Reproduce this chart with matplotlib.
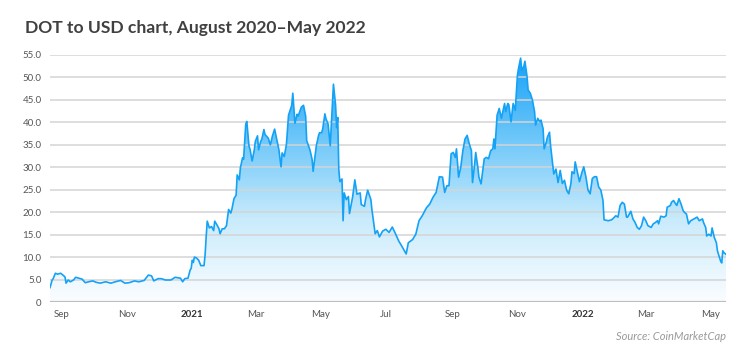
import numpy as np
import pandas as pd
import matplotlib
matplotlib.use("Agg")
import matplotlib.pyplot as plt
import matplotlib.dates as mdates
from matplotlib.colors import LinearSegmentedColormap

# DOT closing price (USD)
dates = [
    "2020-08-21", "2020-08-23", "2020-08-24", "2020-08-26", "2020-08-28", "2020-08-31",
    "2020-09-02", "2020-09-04", "2020-09-05", "2020-09-07", "2020-09-09", "2020-09-12",
    "2020-09-14", "2020-09-17", "2020-09-20", "2020-09-23", "2020-09-26", "2020-09-30",
    "2020-10-03", "2020-10-07", "2020-10-12", "2020-10-17", "2020-10-21", "2020-10-26",
    "2020-10-30", "2020-11-03", "2020-11-08", "2020-11-12", "2020-11-17", "2020-11-21",
    "2020-11-24", "2020-11-26", "2020-11-30", "2020-12-03", "2020-12-07", "2020-12-12",
    "2020-12-16", "2020-12-21", "2020-12-23", "2020-12-25", "2020-12-28", "2020-12-30",
    "2020-12-31", "2021-01-01", "2021-01-02", "2021-01-03", "2021-01-05", "2021-01-07",
    "2021-01-09", "2021-01-12", "2021-01-13", "2021-01-14", "2021-01-15", "2021-01-17",
    "2021-01-19", "2021-01-21", "2021-01-22", "2021-01-24", "2021-01-26", "2021-01-27",
    "2021-01-29", "2021-01-31", "2021-02-02", "2021-02-04", "2021-02-06", "2021-02-07",
    "2021-02-09", "2021-02-11", "2021-02-12", "2021-02-14", "2021-02-15", "2021-02-17",
    "2021-02-18", "2021-02-20", "2021-02-21", "2021-02-23", "2021-02-24", "2021-02-26",
    "2021-02-28", "2021-03-01", "2021-03-03", "2021-03-04", "2021-03-06", "2021-03-07",
    "2021-03-09", "2021-03-10", "2021-03-13", "2021-03-15", "2021-03-17", "2021-03-19",
    "2021-03-21", "2021-03-23", "2021-03-25", "2021-03-26", "2021-03-28", "2021-03-30",
    "2021-04-01", "2021-04-04", "2021-04-05", "2021-04-07", "2021-04-09", "2021-04-10",
    "2021-04-13", "2021-04-15", "2021-04-17", "2021-04-18", "2021-04-21", "2021-04-23",
    "2021-04-24", "2021-04-27", "2021-04-29", "2021-04-30", "2021-05-02", "2021-05-03",
    "2021-05-05", "2021-05-06", "2021-05-08", "2021-05-10", "2021-05-12", "2021-05-13",
    "2021-05-15", "2021-05-16", "2021-05-17", "2021-05-18", "2021-05-19", "2021-05-21",
    "2021-05-22", "2021-05-23", "2021-05-25", "2021-05-27", "2021-05-28", "2021-05-31",
    "2021-06-02", "2021-06-04", "2021-06-07", "2021-06-08", "2021-06-11", "2021-06-12",
    "2021-06-14", "2021-06-17", "2021-06-18", "2021-06-21", "2021-06-23", "2021-06-25",
    "2021-06-28", "2021-07-01", "2021-07-04", "2021-07-07", "2021-07-10", "2021-07-13",
    "2021-07-16", "2021-07-20", "2021-07-22", "2021-07-26", "2021-07-29", "2021-08-01",
    "2021-08-04", "2021-08-08", "2021-08-11", "2021-08-14", "2021-08-17", "2021-08-20",
    "2021-08-23", "2021-08-25", "2021-08-27", "2021-08-29", "2021-08-31", "2021-09-02",
    "2021-09-04", "2021-09-05", "2021-09-07", "2021-09-09", "2021-09-11", "2021-09-13",
    "2021-09-15", "2021-09-17", "2021-09-19", "2021-09-20", "2021-09-22", "2021-09-23",
    "2021-09-25", "2021-09-26", "2021-09-28", "2021-10-01", "2021-10-03", "2021-10-05",
    "2021-10-07", "2021-10-09", "2021-10-10", "2021-10-11", "2021-10-13", "2021-10-15",
    "2021-10-17", "2021-10-20", "2021-10-21", "2021-10-23", "2021-10-24", "2021-10-26",
    "2021-10-28", "2021-10-30", "2021-11-01", "2021-11-02", "2021-11-04", "2021-11-05",
    "2021-11-07", "2021-11-08", "2021-11-10", "2021-11-11", "2021-11-13", "2021-11-15",
    "2021-11-17", "2021-11-18", "2021-11-20", "2021-11-22", "2021-11-23", "2021-11-25",
    "2021-11-26", "2021-11-28", "2021-11-29", "2021-12-01", "2021-12-02", "2021-12-05",
    "2021-12-07", "2021-12-09", "2021-12-11", "2021-12-13", "2021-12-15", "2021-12-17",
    "2021-12-19", "2021-12-21", "2021-12-22", "2021-12-24", "2021-12-25", "2021-12-28",
    "2021-12-29", "2021-12-31", "2022-01-02", "2022-01-04", "2022-01-06", "2022-01-08",
    "2022-01-10", "2022-01-12", "2022-01-14", "2022-01-16", "2022-01-18", "2022-01-20",
    "2022-01-21", "2022-01-25", "2022-01-28", "2022-01-29", "2022-02-01", "2022-02-03",
    "2022-02-05", "2022-02-07", "2022-02-09", "2022-02-11", "2022-02-12", "2022-02-15",
    "2022-02-17", "2022-02-19", "2022-02-21", "2022-02-23", "2022-02-25", "2022-02-27",
    "2022-03-01", "2022-03-03", "2022-03-06", "2022-03-08", "2022-03-10", "2022-03-12",
    "2022-03-13", "2022-03-15", "2022-03-18", "2022-03-20", "2022-03-21", "2022-03-24",
    "2022-03-25", "2022-03-27", "2022-03-28", "2022-03-30", "2022-04-01", "2022-04-03",
    "2022-04-05", "2022-04-06", "2022-04-08", "2022-04-10", "2022-04-12", "2022-04-15",
    "2022-04-18", "2022-04-20", "2022-04-23", "2022-04-24", "2022-04-26", "2022-04-27",
    "2022-04-29", "2022-05-01", "2022-05-02", "2022-05-04", "2022-05-06", "2022-05-07",
    "2022-05-08", "2022-05-10", "2022-05-11", "2022-05-12", "2022-05-13", "2022-05-15",
]
prices = [
    3.2, 4.9, 5.2, 6.4, 6.2, 6.4,
    6.0, 5.6, 4.2, 4.9, 4.5, 4.9,
    5.5, 5.3, 5.1, 4.3, 4.5, 4.7,
    4.4, 4.2, 4.5, 4.2, 4.5, 4.8,
    4.2, 4.3, 4.7, 4.5, 4.8, 6.0,
    5.8, 4.7, 5.2, 5.2, 4.9, 4.9,
    5.5, 5.3, 4.5, 5.2, 5.3, 7.1,
    7.5, 9.3, 8.8, 10.0, 9.8, 9.3,
    8.1, 8.1, 10.5, 14.5, 18.0, 16.5,
    16.8, 15.9, 18.0, 17.2, 16.3, 15.2,
    16.3, 16.3, 17.0, 20.6, 19.8, 20.6,
    23.0, 23.8, 28.3, 27.2, 29.9, 32.1,
    31.8, 39.6, 40.2, 34.8, 34.0, 31.4,
    33.9, 35.8, 37.0, 33.9, 35.8, 36.2,
    38.4, 37.3, 36.5, 35.0, 37.0, 38.5,
    36.2, 33.9, 30.1, 33.2, 32.4, 35.0,
    41.6, 43.8, 46.5, 39.8, 41.8, 41.4,
    43.4, 43.8, 41.4, 35.9, 33.9, 31.8,
    29.1, 34.8, 37.0, 37.7, 37.7, 38.6,
    41.9, 40.8, 39.6, 34.8, 43.8, 48.5,
    43.8, 38.8, 41.1, 29.5, 26.8, 27.4,
    18.1, 24.3, 22.8, 23.5, 19.7, 23.5,
    27.2, 24.0, 24.3, 21.7, 21.3, 22.8,
    24.9, 22.8, 20.5, 15.2, 15.9, 14.5,
    15.8, 16.2, 15.5, 16.7, 15.2, 13.6,
    12.4, 10.7, 13.2, 13.9, 15.1, 18.1,
    19.2, 21.0, 21.8, 23.3, 24.4, 27.9,
    27.8, 24.4, 25.9, 25.9, 33.0, 33.3,
    32.2, 34.1, 27.8, 30.0, 33.7, 36.3,
    37.1, 35.2, 33.7, 26.6, 30.7, 33.3,
    30.0, 27.8, 26.3, 31.9, 32.2, 31.9,
    33.7, 34.1, 36.3, 34.1, 41.6, 43.1,
    40.9, 44.2, 42.4, 44.2, 43.9, 40.1,
    44.2, 42.7, 50.5, 52.0, 54.3, 51.6,
    52.5, 53.6, 50.2, 47.2, 46.5, 45.0,
    42.4, 39.4, 40.9, 40.1, 40.5, 38.6,
    34.1, 35.6, 36.7, 37.8, 34.8, 28.5,
    29.6, 26.6, 29.3, 26.4, 27.1, 24.9,
    24.1, 26.4, 29.0, 28.6, 31.2, 27.9,
    26.8, 28.6, 30.1, 27.9, 24.9, 24.1,
    27.5, 27.9, 27.9, 25.6, 24.9, 22.6,
    18.3, 18.1, 18.3, 18.5, 19.2, 18.9,
    21.5, 22.2, 21.8, 18.9, 18.9, 20.2,
    18.5, 17.7, 16.6, 16.2, 17.0, 18.9,
    18.1, 17.0, 16.6, 17.4, 17.7, 18.1,
    17.4, 19.1, 18.9, 19.2, 21.1, 21.5,
    22.2, 22.6, 22.2, 21.5, 23.0, 21.8,
    20.3, 20.0, 19.6, 17.4, 18.1, 18.5,
    18.9, 18.1, 18.5, 17.7, 16.6, 14.7,
    15.1, 14.7, 16.5, 14.4, 13.2, 11.4,
    10.6, 9.1, 8.7, 11.4, 11.0, 10.6,
]

y_ticks = [0, 5, 10, 15, 20, 25, 30, 35, 40, 45, 50, 55]
x_tick_dates = ["2020-09-01", "2020-11-01", "2021-01-01", "2021-03-01", "2021-05-01",
                "2021-07-01", "2021-09-01", "2021-11-01", "2022-01-01", "2022-03-01",
                "2022-05-01"]
x_tick_labels = ["Sep", "Nov", "2021", "Mar", "May", "Jul", "Sep", "Nov", "2022", "Mar", "May"]

x = mdates.date2num(pd.to_datetime(dates))
y = np.array(prices)

fig = plt.figure(figsize=(7.5, 3.64), dpi=100)
ax = fig.add_axes([50 / 750, 1 - 302 / 364, 676 / 750, 247 / 364])

line_col = "#14a2f6"
cmap = LinearSegmentedColormap.from_list("dot", ["#fbfdff", "#c9ebfc", "#6cc6f9", "#14a0f6"])

# gradient fill under the curve, clipped to the area polygon
area = ax.fill_between(x, y, 0, color="none", lw=0)
grad = np.linspace(0, 1, 256).reshape(-1, 1)
img = ax.imshow(grad, cmap=cmap, aspect="auto", origin="lower",
                extent=[x[0], x[-1], 0, 55], zorder=1)
img.set_clip_path(area.get_paths()[0], transform=ax.transData)

ax.plot(x, y, color=line_col, lw=1.2, zorder=3)

ax.set_xlim(x[0], x[-1])
ax.set_ylim(0, 55)

for v in y_ticks[1:]:
    ax.axhline(v, color="#d4d4d4", lw=1.1, zorder=2)
ax.axhline(0, color="#bdbdbd", lw=1.6, zorder=2)

for s in ax.spines.values():
    s.set_visible(False)

ax.set_yticks(y_ticks)
ax.set_yticklabels(["0"] + [f"{v:.1f}" for v in y_ticks[1:]])
ax.set_xticks(mdates.date2num(pd.to_datetime(x_tick_dates)))
ax.set_xticklabels(x_tick_labels)
ax.tick_params(length=0, labelsize=7, labelcolor="#555555", pad=6)
ax.tick_params(axis="y", pad=6)
for lab in ax.get_xticklabels():
    lab.set_fontfamily("Lato")
    if lab.get_text().startswith("20"):
        lab.set_color("#333333")
        lab.set_fontweight("bold")
for lab in ax.get_yticklabels():
    lab.set_fontfamily("Lato")

fig.text(25 / 750, 1 - 28 / 364, "DOT to USD chart, August 2020\u2013May 2022",
         fontsize=12.6, fontweight="bold", color="#404040", family="Lato",
         va="center", ha="left")
fig.text(726 / 750, 1 - 336 / 364, "Source: CoinMarketCap", fontsize=8,
         style="italic", color="#9a9a9a", family="Lato", ha="right", va="center")

fig.savefig("out.png", dpi=100)
